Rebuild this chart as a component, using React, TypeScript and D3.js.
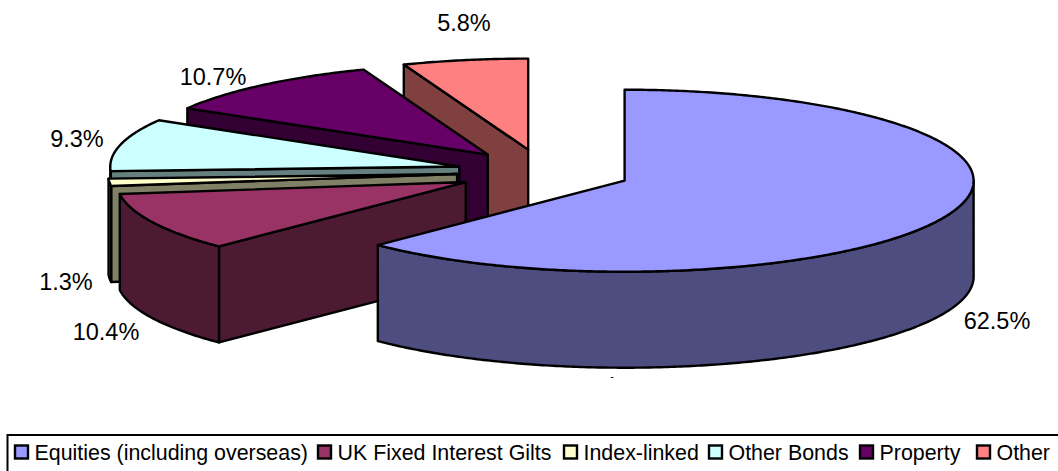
import React from 'react';
import * as d3 from 'd3';

// data
const categories = ['Equities (including overseas)', 'UK Fixed Interest Gilts', 'Index-linked', 'Other Bonds', 'Property', 'Other'];
const shares = [62.5, 10.4, 1.3, 9.3, 10.7, 5.8];
const valueLabels = ['62.5%', '10.4%', '1.3%', '9.3%', '10.7%', '5.8%'];

const topColors = ['#9999ff', '#993366', '#ffffcc', '#ccffff', '#660066', '#ff8080'];
const wallColors = ['#4d4d80', '#4d1a33', '#808066', '#668080', '#330033', '#804040'];

// layout
const width = 1058;
const height = 471;
const cx = 544;
const cy = 172;
const rx = 349;
const ry = 91;
const depth = 96;
const explode = 0.25;
const labelPos = [[997, 329], [106, 340], [66, 290], [77, 147], [213, 85], [464, 31]];
const legendX = [15, 318, 564, 709, 860, 977];

const line = d3.line();

export default function App() {
  const slices = d3.pie<number>().sort(null).startAngle(0).endAngle(2 * Math.PI)(shares);

  // project a pie angle onto the tilted ellipse, pushed out along the slice's middle
  const project = (s: d3.PieArcDatum<number>, a: number, r = 1, dy = 0): [number, number] => {
    const mid = (s.startAngle + s.endAngle) / 2;
    return [
      cx + explode * rx * Math.sin(mid) + r * rx * Math.sin(a),
      cy - explode * ry * Math.cos(mid) - r * ry * Math.cos(a) + dy
    ];
  };

  const arcPoints = (s: d3.PieArcDatum<number>, a0: number, a1: number, dy = 0) => {
    const n = Math.max(2, Math.ceil((a1 - a0) / 0.01));
    return d3.range(n + 1).map(i => project(s, a0 + ((a1 - a0) * i) / n, 1, dy));
  };

  const drawn = slices.map((s, i) => {
    const apex = project(s, 0, 0);
    const apexLow = project(s, 0, 0, depth);
    const top = line([apex, ...arcPoints(s, s.startAngle, s.endAngle)]) + 'Z';

    const walls: string[] = [];
    // radial wall on the start side faces us on the left half
    if (Math.sin(s.startAngle) < -1e-6) {
      walls.push(line([apex, project(s, s.startAngle), project(s, s.startAngle, 1, depth), apexLow]) + 'Z');
    }
    // and the one on the end side on the right half
    if (Math.sin(s.endAngle) > 1e-6) {
      walls.push(line([apex, project(s, s.endAngle), project(s, s.endAngle, 1, depth), apexLow]) + 'Z');
    }
    // curved rim, only the part turned towards us
    const a0 = Math.max(s.startAngle, Math.PI / 2);
    const a1 = Math.min(s.endAngle, (3 * Math.PI) / 2);
    if (a1 > a0) {
      walls.push(line([...arcPoints(s, a0, a1), ...arcPoints(s, a0, a1, depth).reverse()]) + 'Z');
    }
    return { i, top, walls };
  });

  return (
    <svg
      width={width}
      height={height}
      viewBox={`0 0 ${width} ${height}`}
      style={{ position: 'absolute', left: 0, top: 0, display: 'block', background: '#fff' }}
      fontFamily="'Liberation Sans', Arial, sans-serif"
    >
      {drawn.slice().reverse().map(d => (
        <g key={d.i} stroke="#000" strokeWidth={2.4} strokeLinejoin="round">
          {d.walls.map((w, j) => <path key={j} d={w} fill={wallColors[d.i]} />)}
          <path d={d.top} fill={topColors[d.i]} />
        </g>
      ))}

      {valueLabels.map((t, i) => (
        <text key={t} x={labelPos[i][0]} y={labelPos[i][1]} textAnchor="middle" fontSize={23.5} fill="#000">{t}</text>
      ))}
      <text x={612} y={380} textAnchor="middle" fontSize={11} fill="#000">-</text>

      {/* legend box runs off the right and bottom of the frame */}
      <rect x={7.5} y={435} width={1060} height={50} fill="#fff" stroke="#000" strokeWidth={2} />
      {categories.map((c, i) => (
        <g key={c}>
          <rect x={legendX[i]} y={445.5} width={13} height={13} fill={topColors[i]} stroke="#000" strokeWidth={2.4} />
          <text x={legendX[i] + 19.5} y={460} fontSize={21.4} fill="#000">{c}</text>
        </g>
      ))}
    </svg>
  );
}
